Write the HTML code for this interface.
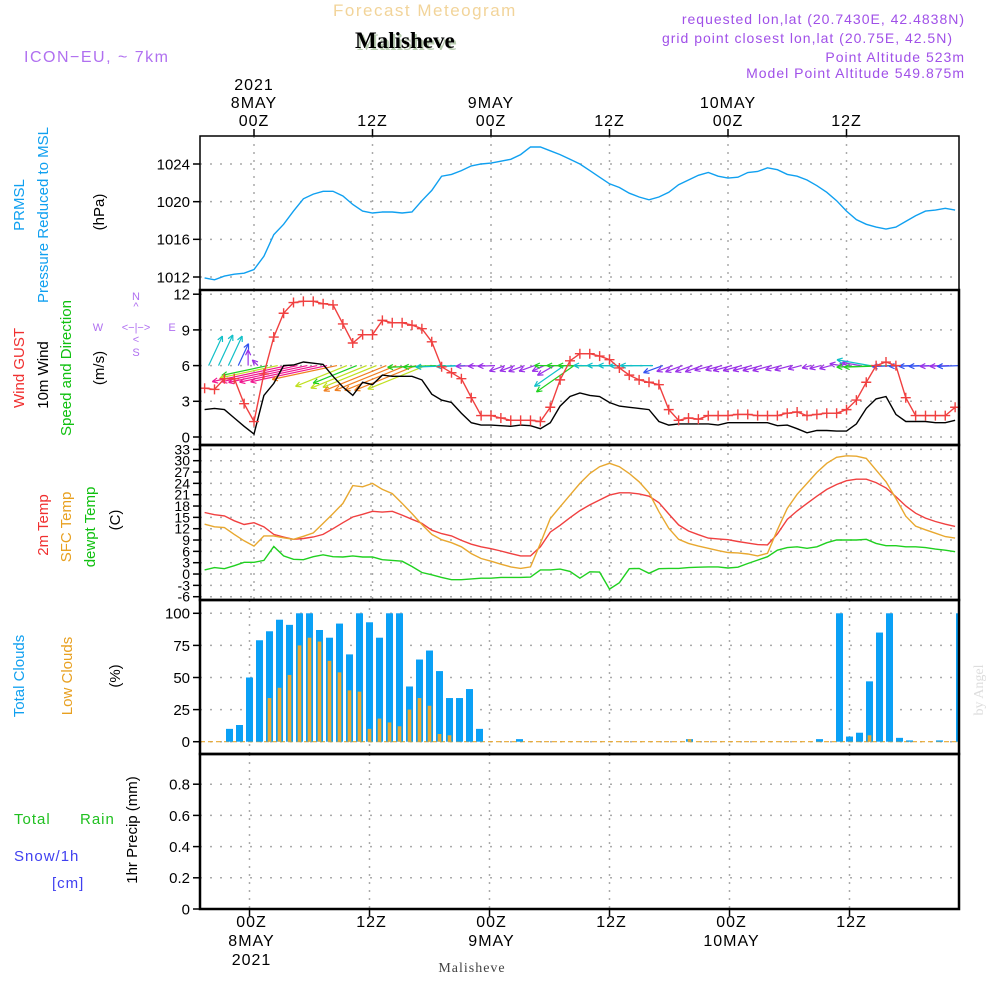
<!DOCTYPE html>
<html><head><meta charset="utf-8"><style>
html,body{margin:0;padding:0;background:#fff}
svg{display:block;font-family:"Liberation Sans",sans-serif}
</style></head><body>
<svg id="chart" width="1000" height="1000" viewBox="0 0 1000 1000" xmlns="http://www.w3.org/2000/svg">
<rect width="1000" height="1000" fill="#fff"/>
<text x="333" y="16" font-size="17" fill="#f2d49a" letter-spacing="1.5">Forecast Meteogram</text>
<text x="357" y="50" font-size="23" font-weight="bold" font-family="Liberation Serif,serif" fill="#b8ccb0">Malisheve</text>
<text x="355" y="48" font-size="23" font-weight="bold" font-family="Liberation Serif,serif" fill="#000">Malisheve</text>
<text x="24" y="62" font-size="16" fill="#b070f0" letter-spacing="1.5">ICON−EU, ~ 7km</text>
<g font-size="14" fill="#a050e8" text-anchor="end" letter-spacing="1">
<text x="965" y="24">requested lon,lat (20.7430E, 42.4838N)</text>
<text x="953" y="43">grid point closest lon,lat (20.75E, 42.5N)</text>
<text x="965" y="62">Point Altitude 523m</text>
<text x="965" y="78">Model Point Altitude 549.875m</text>
</g>
<g id="frames"></g>
<g id="plot"></g>
<g font-size="15">
<text transform="translate(24,205) rotate(-90)" text-anchor="middle" fill="#10a0f0">PRMSL</text>
<text transform="translate(48,215) rotate(-90)" text-anchor="middle" fill="#10a0f0">Pressure Reduced to MSL</text>
<text transform="translate(104,212) rotate(-90)" text-anchor="middle" fill="#000">(hPa)</text>
<text transform="translate(24,368) rotate(-90)" text-anchor="middle" fill="#f03030">Wind GUST</text>
<text transform="translate(48,375) rotate(-90)" text-anchor="middle" fill="#000">10m Wind</text>
<text transform="translate(71,368) rotate(-90)" text-anchor="middle" fill="#10c010">Speed and Direction</text>
<text transform="translate(104,368) rotate(-90)" text-anchor="middle" fill="#000">(m/s)</text>
<text transform="translate(48,525) rotate(-90)" text-anchor="middle" fill="#f03030">2m Temp</text>
<text transform="translate(71,527) rotate(-90)" text-anchor="middle" fill="#e8a020">SFC Temp</text>
<text transform="translate(95,527) rotate(-90)" text-anchor="middle" fill="#10c010">dewpt Temp</text>
<text transform="translate(120,520) rotate(-90)" text-anchor="middle" fill="#000">(C)</text>
<text transform="translate(24,676) rotate(-90)" text-anchor="middle" fill="#10a0f0">Total Clouds</text>
<text transform="translate(72,676) rotate(-90)" text-anchor="middle" fill="#e8a020">Low Clouds</text>
<text transform="translate(120,676) rotate(-90)" text-anchor="middle" fill="#000">(%)</text>
<text transform="translate(137,830) rotate(-90)" text-anchor="middle" fill="#000">1hr Precip (mm)</text>
<text x="14" y="824" fill="#20c020" letter-spacing="1">Total</text>
<text x="80" y="824" fill="#20c020" letter-spacing="1">Rain</text>
<text x="14" y="861" fill="#4040f0" letter-spacing="1">Snow/1h</text>
<text x="52" y="888" fill="#4040f0" letter-spacing="1">[cm]</text>
</g>
<g fill="#b070f0" font-size="11" text-anchor="middle">
<text x="136" y="300">N</text><text x="136" y="310">^</text>
<text x="98" y="331">W</text><text x="136" y="331">&lt;−|−&gt;</text><text x="172" y="331">E</text>
<text x="136" y="343">&lt;</text><text x="136" y="356">S</text>
</g>
<text x="472" y="972" font-size="14" font-family="Liberation Serif,serif" fill="#444" text-anchor="middle" letter-spacing="1">Malisheve</text>
<text transform="translate(983,690) rotate(-90)" font-size="14" font-family="Liberation Serif,serif" fill="#ddd" text-anchor="middle">by Angel</text>
</svg>
<script>
const hours = [];
for (let h = -5; h <= 71; h++) hours.push(h);
const pressure = [1011.9,1011.7,1012.1,1012.3,1012.4,1012.8,
1014.2,1016.5,1017.6,1019.0,1020.3,1020.8,1021.1,1021.1,1020.6,1019.7,
1019.0,1018.8,1018.9,1018.9,1018.8,1018.9,1020.1,1021.2,1022.7,1022.9,
1023.3,1023.8,1024.0,1024.1,1024.3,1024.5,1025.0,1025.8,1025.8,1025.4,
1025.0,1024.5,1024.0,1023.3,1022.6,1021.9,1021.5,1020.9,1020.5,1020.2,
1020.5,1021.0,1021.8,1022.3,1022.8,1023.1,1022.7,1022.5,1022.6,1023.1,
1023.2,1023.6,1023.4,1022.9,1022.7,1022.3,1021.7,1021.0,1020.1,1019.0,
1018.1,1017.6,1017.3,1017.1,1017.3,1017.9,1018.5,1019.0,1019.1,1019.3,1019.1];
const gust = [4.1,4.0,4.9,4.9,2.8,1.3,
5.3,8.4,10.4,11.3,11.4,11.4,11.2,11.1,9.5,7.9,
8.6,8.6,9.8,9.6,9.6,9.4,9.1,8.0,5.9,5.4,
4.9,3.3,1.8,1.8,1.6,1.4,1.4,1.4,1.3,2.5,
4.8,6.4,7.0,7.0,6.8,6.5,5.8,5.2,4.8,4.6,
4.4,2.3,1.4,1.6,1.5,1.8,1.8,1.8,1.9,1.9,
1.8,1.8,1.8,2.0,2.1,1.8,1.9,2.0,2.0,2.3,
3.1,4.6,6.0,6.3,6.0,3.3,1.8,1.8,1.8,1.8,2.5];
const wind10 = [2.3,2.4,2.3,1.6,0.9,0.25,
3.5,4.5,6.0,6.05,6.3,6.2,6.1,5.1,4.2,3.5,
4.6,4.4,5.2,5.1,5.1,5.1,4.8,3.6,3.1,2.9,
2.0,1.2,1.0,1.0,0.95,0.9,1.0,0.95,0.7,1.2,
2.6,3.4,3.7,3.5,3.4,2.9,2.6,2.5,2.4,2.3,
1.3,1.0,1.1,1.1,1.1,1.1,1.0,1.2,1.2,1.2,
1.2,1.2,0.95,1.0,0.7,0.35,0.55,0.55,0.5,0.5,
1.1,2.4,3.2,3.4,1.9,1.3,1.3,1.3,1.2,1.2,1.4];
const windDirTo = [25,25,25,25,0,315,
258,258,258,258,258,258,258,258,248,248,
248,248,248,248,248,248,248,268,268,268,
268,268,268,268,250,250,250,250,245,240,
235,235,270,270,270,270,270,270,270,270,
250,250,250,250,250,255,255,255,255,255,
255,255,255,255,255,255,255,255,280,280,
280,280,268,268,268,268,268,268,268,268,268];
const temp2m = [16.3,15.7,15.4,14.1,13.1,13.6,
12.5,10.5,9.8,9.2,9.4,9.8,10.5,12.0,13.6,15.1,
15.8,16.6,16.4,16.6,15.6,14.5,13.4,11.6,10.7,10.1,
8.9,7.9,7.2,6.7,6.1,5.4,4.8,4.8,7.2,11.1,
12.9,14.9,16.8,18.3,19.6,20.9,21.5,21.5,21.2,20.6,
18.9,15.9,13.0,11.4,10.4,9.5,9.3,9.1,8.6,8.2,
7.8,7.7,10.6,14.5,16.7,18.7,20.6,22.4,23.7,24.7,
25.1,25.1,24.2,22.8,20.5,18.0,16.1,14.8,13.9,13.2,12.6];
const tempSfc = [13.2,12.5,12.3,10.5,8.8,7.4,
10.1,10.1,9.6,9.2,10.0,10.9,13.4,16.0,18.7,23.4,
23.1,24.0,22.4,21.3,18.7,16.0,13.1,10.5,9.1,8.3,
7.2,5.4,4.1,3.4,2.6,1.9,1.5,1.9,8.1,14.7,
17.8,20.9,24.0,26.6,28.4,29.3,28.4,26.6,24.4,21.5,
16.5,12.1,9.2,8.1,7.4,6.8,6.2,5.7,5.6,5.3,
4.8,5.5,11.7,17.4,21.1,24.0,26.9,29.3,30.9,31.3,
31.2,30.6,27.5,24.4,20.0,15.3,12.7,11.7,10.8,9.9,9.5];
const dewpt = [1.1,1.7,1.4,2.2,3.1,3.1,
3.6,7.3,4.8,3.9,3.8,4.6,5.1,4.6,4.5,4.8,
4.5,4.5,3.8,3.6,3.4,2.0,0.4,-0.2,-0.9,-1.5,
-1.5,-1.3,-1.1,-1.1,-0.9,-0.9,-0.9,-0.8,1.1,1.1,
1.3,0.7,-1.1,0.6,0.5,-4.0,-2.3,1.4,1.5,0.2,
1.4,1.5,1.5,1.7,1.8,1.9,1.9,1.6,1.8,2.8,
3.7,4.6,6.3,7.0,7.2,6.8,7.2,8.3,9.0,9.0,
9.0,9.2,8.1,7.5,7.5,7.2,7.2,7.0,6.6,6.3,5.9];
const cloudTotal = [0,0,0,10,13,50,
79,86,95,91,100,100,87,81,92,68,
100,93,81,100,100,43,64,71,55,34,
34,41,10,0,0,0,2,0,0,0,
0,0,0,0,0,0,0,0,0,0,
0,0,0,2,0,0,0,0,0,0,
0,0,0,0,0,0,2,0,100,4,
7,47,85,100,3,1,0,0,1,0,100];
const cloudLow = [0,0,0,0,0,0,
0,34,42,52,75,81,78,63,54,40,
39,10,18,15,12,25,34,28,6,5,
0,0,0,0,0,0,0,0,0,0,
0,0,0,0,0,0,0,0,0,0,
0,0,0,2,0,0,0,0,0,0,
0,0,0,0,0,0,0,0,0,0,
0,5,0,0,0,0,0,0,0,0,0];
const precip = hours.map(() => 0);
const pressTicks = [1012,1016,1020,1024];
const windTicks = [0,3,6,9,12];
const tempTicks = [-6,-3,0,3,6,9,12,15,18,21,24,27,30,33];
const cloudTicks = [0,25,50,75,100];
const precipTicks = [0,0.2,0.4,0.6,0.8];

const NS = 'http://www.w3.org/2000/svg';
const plot = document.getElementById('plot');
function mk(tag, attrs, parent) {
  const e = document.createElementNS(NS, tag);
  for (const k in attrs) e.setAttribute(k, attrs[k]);
  (parent || plot).appendChild(e);
  return e;
}
const L = 200, R = 959;
const xa = h => 254 + 9.875 * h;
const xb = h => 249.5 + 10 * h;
const yP = v => 164 + (1024 - v) * 9.417;
const yW = v => 437 - v * 11.9;
const yT = v => 596.7 - (v + 6) * 3.778;
const yC = v => 741.7 - v * 1.284;
const yR = v => 909 - v * 156;

function grid(ticks, yf, top, bot, xf, fmt, fs, name) {
  ticks.forEach(t => {
    const y = yf(t);
    const g = mk('line', {x1: L, x2: R, y1: y, y2: y, stroke: '#aaa', 'stroke-width': 1.5, 'stroke-dasharray': '2,8'});
    
    
    const tk = mk('line', {x1: L - 7, x2: L, y1: y, y2: y, stroke: '#000', 'stroke-width': 1.5});
    
    
    const lb = mk('text', {x: L - 10, y: y + fs * 0.36, 'font-size': fs, 'text-anchor': 'end', fill: '#000'});
    lb.textContent = fmt(t);
    
    
  });
  for (let h = 0; h <= 60; h += 12) {
    const v = mk('line', {x1: xf(h), x2: xf(h), y1: top, y2: bot, stroke: '#aaa', 'stroke-width': 1.5, 'stroke-dasharray': '2,6'});
    
    
  }
}
grid(pressTicks, yP, 136, 290, xa, t => t, 15, 'pressure');
grid(windTicks, yW, 290, 445, xa, t => t, 15, 'wind');
grid(tempTicks, yT, 445, 600, xa, t => t, 14, 'temp');
grid(cloudTicks, yC, 600, 754, xb, t => t, 15, 'cloud');
grid(precipTicks, yR, 754, 909, xb, t => t === 0 ? '0' : t.toFixed(1), 15, 'precip');

function line(vals, xf, yf, color, name, w) {
  const d = vals.map((v, i) => (i ? 'L' : 'M') + xf(hours[i]).toFixed(1) + ',' + yf(v).toFixed(1)).join('');
  const p = mk('path', {d: d, fill: 'none', stroke: color, 'stroke-width': w || 1.4});
  
  
  return p;
}
line(pressure, xa, yP, '#10a0f0', 'pressure-line');

const arrowG = mk('g', {});


function spdColor(s) {
  if (s < 1.3) return '#9a30e8';
  if (s < 2.0) return '#3050f0';
  if (s < 3.0) return '#10c0c8';
  if (s < 4.0) return '#20d020';
  if (s < 5.0) return '#c0e020';
  if (s < 5.6) return '#f08020';
  return '#f01890';
}
hours.forEach((h, i) => {
  const s = wind10[i];
  const len = 5 + s * 12;
  const a = windDirTo[i] * Math.PI / 180;
  const x0 = xa(h) + 4, y0 = yW(6);
  const x1 = x0 + Math.sin(a) * len, y1 = y0 - Math.cos(a) * len;
  const c = spdColor(s);
  const g = mk('g', {stroke: c, 'stroke-width': 1.2, fill: 'none'}, arrowG);
  
  
  mk('line', {x1: x0, y1: y0, x2: x1, y2: y1}, g);
  const back = a + Math.PI;
  [0.45, -0.45].forEach(o => {
    mk('line', {x1: x1, y1: y1, x2: x1 + Math.sin(back + o) * 6, y2: y1 - Math.cos(back + o) * 6}, g);
  });
});
line(wind10, xa, yW, '#000', 'wind10m-line');
line(gust, xa, yW, '#f04040', 'gust-line');
hours.forEach((h, i) => {
  const x = xa(h), y = yW(gust[i]);
  const m = mk('path', {d: `M${x - 5},${y}h10M${x},${y - 5}v10`, stroke: '#f04040', 'stroke-width': 1.4});
  
  
});

line(temp2m, xa, yT, '#f04040', 'temp2m-line');
line(tempSfc, xa, yT, '#e8a830', 'sfc-temp-line');
line(dewpt, xa, yT, '#20d020', 'dewpt-line');

const base = mk('line', {x1: L, x2: R, y1: yC(0), y2: yC(0), stroke: '#e8a830', 'stroke-width': 1.2, 'stroke-dasharray': '5,3'});


hours.forEach((h, i) => {
  const x = xb(h);
  if (cloudTotal[i] > 0) {
    const b = mk('rect', {x: Math.max(L, x - 3.5), y: yC(cloudTotal[i]), width: Math.min(7, R - (x - 3.5)), height: yC(0) - yC(cloudTotal[i]), fill: '#0aa0f5'});
    
    
  }
  if (cloudLow[i] > 0) {
    const b2 = mk('rect', {x: x - 1.8, y: yC(cloudLow[i]), width: 3.6, height: yC(0) - yC(cloudLow[i]), fill: '#e8a830'});
    
    
  }
});
const pb = mk('line', {x1: L, x2: R, y1: yR(0), y2: yR(0), stroke: '#000', 'stroke-width': 1.2, 'stroke-dasharray': '6,3'});


hours.forEach((h, i) => {
  if (precip[i] > 0) {
    const r = mk('rect', {x: xb(h) - 3.5, y: yR(precip[i]), width: 7, height: yR(0) - yR(precip[i]), fill: '#20c020'});
    
    
  }
});

[[136, 290], [290, 445], [445, 600], [600, 754], [754, 909]].forEach((p, k) => {
  const f = mk('rect', {x: L, y: p[0], width: R - L, height: p[1] - p[0], fill: 'none', stroke: '#000', 'stroke-width': k === 0 ? 1.5 : 2.5}, plot);
  
  
});
const topLabels = [[0, ['2021', '8MAY', '00Z']], [12, ['12Z']], [24, ['9MAY', '00Z']], [36, ['12Z']], [48, ['10MAY', '00Z']], [60, ['12Z']]];
topLabels.forEach(([h, lines]) => {
  const x = xa(h);
  const t = mk('line', {x1: x, x2: x, y1: 129, y2: 136, stroke: '#000', 'stroke-width': 1.5});
  
  
  lines.forEach((s, j) => {
    const tx = mk('text', {x: x, y: 128 - (lines.length - 1 - j) * 18 - 2, 'font-size': 16, 'text-anchor': 'middle', fill: '#000', 'letter-spacing': 1});
    tx.textContent = s;
    
    
  });
});
const botLabels = [[0, ['00Z', '8MAY', '2021']], [12, ['12Z']], [24, ['00Z', '9MAY']], [36, ['12Z']], [48, ['00Z', '10MAY']], [60, ['12Z']]];
botLabels.forEach(([h, lines]) => {
  const x = xb(h) + 2;
  const t = mk('line', {x1: x - 2, x2: x - 2, y1: 909, y2: 916, stroke: '#000', 'stroke-width': 1.5});
  
  
  lines.forEach((s, j) => {
    const tx = mk('text', {x: x, y: 927 + j * 19, 'font-size': 16, 'text-anchor': 'middle', fill: '#000', 'letter-spacing': 1});
    tx.textContent = s;
    
    
  });
});
</script>
</body></html>
